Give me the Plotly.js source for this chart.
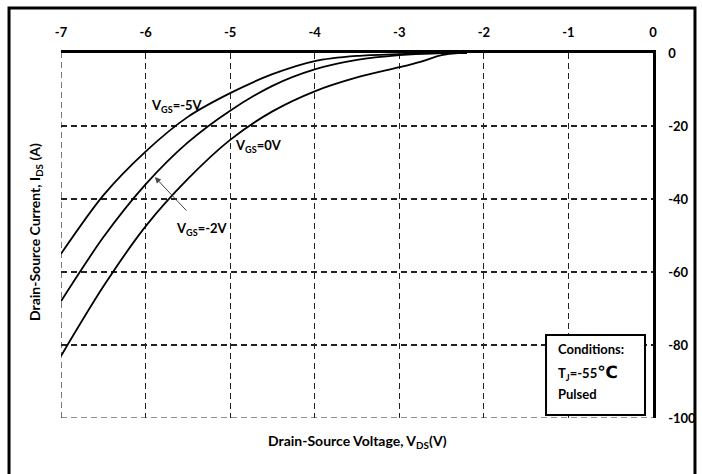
<!DOCTYPE html>
<html>
<head>
<meta charset="utf-8">
<script src="https://cdn.plot.ly/plotly-3.0.1.min.js"></script>
<style>
  html, body { margin: 0; padding: 0; background: #fff; }
  #chart { width: 702px; height: 474px; }
</style>
</head>
<body>
<div id="chart"></div>
<script>
// Third-quadrant output characteristics, Tj = -55 °C, pulsed
const vdsVgsMinus5 = [-7, -6.5, -6, -5.5, -5, -4.5, -4, -3.5, -3, -2.5, -2.2];
const idsVgsMinus5 = [-55, -39, -27, -17.5, -11, -5.8, -2.2, -0.8, -0.3, 0, 0];

const vdsVgsMinus2 = [-7, -6.5, -6, -5.5, -5, -4.5, -4, -3.5, -3, -2.5, -2.2];
const idsVgsMinus2 = [-68, -50.5, -36, -24.5, -15.8, -9, -4.5, -1.9, -0.6, 0, 0];

const vdsVgs0 = [-7, -6.5, -6, -5.5, -5, -4.5, -4, -3.5, -3, -2.75, -2.5, -2.3, -2.2];
const idsVgs0 = [-83, -64, -47.5, -34.5, -23.8, -16, -10.5, -6.7, -3.9, -2.4, -0.6, 0, 0];

const xTicks = [-7, -6, -5, -4, -3, -2, -1, 0];
const yTicks = [0, -20, -40, -60, -80, -100];
const xRange = [-7, 0];
const yRange = [-100, 0];

const FONT = 'Lato, "Open Sans", "DejaVu Sans", sans-serif';
const GRID_COLOR = '#222';
const GRID_DASH = '6px,4px';
const curveLine = {color: '#000', width: 1.8, shape: 'spline', smoothing: 0.8};

const traces = [
  {x: vdsVgsMinus5, y: idsVgsMinus5, name: 'VGS=-5V', mode: 'lines', line: curveLine, hoverinfo: 'x+y'},
  {x: vdsVgsMinus2, y: idsVgsMinus2, name: 'VGS=-2V', mode: 'lines', line: curveLine, hoverinfo: 'x+y'},
  {x: vdsVgs0, y: idsVgs0, name: 'VGS=0V', mode: 'lines', line: curveLine, hoverinfo: 'x+y'}
];

const gridCommon = {
  showgrid: true,
  gridcolor: GRID_COLOR,
  gridwidth: 1.2,
  griddash: GRID_DASH,
  zeroline: false,
  showline: true,
  linecolor: '#000',
  linewidth: 2.6,
  ticks: '',
  tickfont: {family: FONT, size: 13, color: '#000', weight: 'bold'},
  fixedrange: true
};

const labelFont = {family: FONT, size: 13, color: '#000', weight: 'bold'};
const edgeLine = {color: GRID_COLOR, width: 1.2, dash: GRID_DASH};

const layout = {
  width: 702,
  height: 474,
  margin: {l: 61, r: 49, t: 53, b: 56},
  paper_bgcolor: '#fff',
  plot_bgcolor: '#fff',
  showlegend: false,
  xaxis: Object.assign({}, gridCommon, {
    side: 'top',
    range: xRange,
    tickvals: xTicks,
    ticktext: xTicks.map(String),
    ticklabelstandoff: 8
  }),
  yaxis: Object.assign({}, gridCommon, {
    side: 'right',
    range: yRange,
    tickvals: yTicks,
    ticktext: yTicks.map(String),
    ticklabelstandoff: 10
  }),
  shapes: [
    // frame around the whole figure
    {type: 'rect', xref: 'paper', yref: 'paper', x0: -0.0878, x1: 1.0709, y0: -0.2, y1: 1.1233,
     line: {color: '#000', width: 3}, layer: 'below'},
    // dashed grid lines on the open left and bottom edges
    {type: 'line', xref: 'x', yref: 'y', x0: xRange[0], x1: xRange[0], y0: yRange[0], y1: yRange[1],
     line: edgeLine, layer: 'below'},
    {type: 'line', xref: 'x', yref: 'y', x0: xRange[0], x1: xRange[1], y0: yRange[0], y1: yRange[0],
     line: edgeLine, layer: 'below'},
    // test-condition box
    {type: 'rect', xref: 'paper', yref: 'paper', x0: 0.8193, x1: 0.9865, y0: 0.0082, y1: 0.2274,
     line: {color: '#000', width: 2}, fillcolor: '#fff', layer: 'above'}
  ],
  annotations: [
    {xref: 'x', yref: 'y', x: -5.96, y: -14.5, xanchor: 'left', yanchor: 'middle', showarrow: false,
     text: 'V<sub>GS</sub>=-5V', font: labelFont},
    {xref: 'x', yref: 'y', x: -4.97, y: -25.5, xanchor: 'left', yanchor: 'middle', showarrow: false,
     text: 'V<sub>GS</sub>=0V', font: labelFont},
    {xref: 'x', yref: 'y', x: -5.66, y: -48.2, xanchor: 'left', yanchor: 'middle', showarrow: false,
     text: 'V<sub>GS</sub>=-2V', font: labelFont},
    // pointer from the -2V label to its curve
    {xref: 'x', yref: 'y', axref: 'x', ayref: 'y', x: -5.89, y: -34, ax: -5.50, ay: -43.6,
     text: '', showarrow: true, arrowhead: 2, arrowsize: 1.2, arrowwidth: 1, arrowcolor: '#444', standoff: 0},
    // box contents
    {xref: 'paper', yref: 'paper', x: (556 - 61) / 592, y: (418 - 349) / 365, xanchor: 'left', yanchor: 'middle',
     showarrow: false, text: 'Conditions:', font: labelFont},
    {xref: 'paper', yref: 'paper', x: (556 - 61) / 592, y: (418 - 372) / 365, xanchor: 'left', yanchor: 'middle',
     showarrow: false, text: 'T<sub>J</sub>=-55<span style="font-size:17px">℃</span>', font: labelFont},
    {xref: 'paper', yref: 'paper', x: (556 - 61) / 592, y: (418 - 394) / 365, xanchor: 'left', yanchor: 'middle',
     showarrow: false, text: 'Pulsed', font: labelFont},
    // axis titles
    {xref: 'paper', yref: 'paper', x: 0.5, y: (418 - 441) / 365, xanchor: 'center', yanchor: 'middle',
     showarrow: false, text: 'Drain-Source Voltage, V<sub>DS</sub>(V)',
     font: {family: FONT, size: 14, color: '#000', weight: 'bold'}},
    {xref: 'paper', yref: 'paper', x: (35 - 61) / 592, y: (418 - 232) / 365, xanchor: 'center', yanchor: 'middle',
     showarrow: false, textangle: -90, text: 'Drain-Source Current, I<sub>DS</sub> (A)',
     font: {family: FONT, size: 14, color: '#000', weight: 'bold'}}
  ]
};

Plotly.newPlot('chart', traces, layout, {displayModeBar: false, staticPlot: true});
</script>
</body>
</html>
